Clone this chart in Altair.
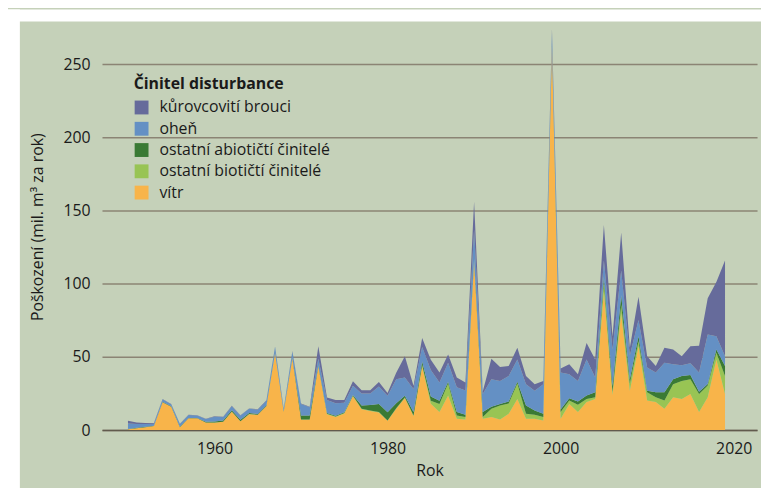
import altair as alt
import pandas as pd

years = list(range(1950, 2020))

vitr = [0.5, 1.3, 2.0, 2.7, 19.0, 16.0, 2.0, 8.0, 8.0, 5.2,
        5.0, 5.6, 12.6, 6.0, 10.8, 10.4, 16.4, 52.5, 12.5, 49.0,
        7.0, 7.0, 43.5, 10.8, 9.0, 11.3, 23.2, 14.2, 13.0, 12.0,
        6.3, 14.6, 22.0, 9.7, 43.5, 18.0, 12.3, 23.6, 7.7, 7.3,
        115.0, 7.7, 8.9, 7.3, 11.1, 21.3, 7.7, 7.7, 6.6, 262.0,
        7.7, 17.9, 12.3, 19.1, 21.3, 94.5, 24.0, 79.9, 26.9, 57.3,
        20.2, 19.1, 14.6, 22.4, 21.3, 24.7, 12.3, 22.4, 48.3, 24.7]

bioticti = [0.0, 0.0, 0.0, 0.0, 0.0, 0.0, 0.0, 0.0, 0.0, 0.0,
            0.1, 0.1, 0.1, 0.1, 0.1, 0.1, 0.1, 0.1, 0.1, 0.1,
            0.3, 0.3, 0.3, 0.3, 0.3, 0.3, 0.3, 0.3, 0.3, 0.3,
            0.3, 0.3, 0.3, 0.3, 1.0, 2.0, 5.6, 8.3, 2.3, 1.7,
            1.0, 1.3, 5.7, 9.5, 7.1, 10.6, 3.4, 2.8, 2.3, 0.5,
            4.6, 2.3, 5.0, 2.2, 1.1, 6.7, 2.0, 5.6, 5.1, 3.4,
            5.6, 3.3, 5.6, 9.0, 12.3, 10.1, 12.4, 8.0, 4.5, 12.3]

abioticti = [0.2, 0.2, 0.2, 0.2, 0.3, 0.3, 0.3, 0.3, 0.3, 0.4,
             0.7, 0.8, 0.9, 1.0, 0.7, 0.5, 0.5, 0.3, 0.3, 0.3,
             2.7, 2.7, 0.5, 0.5, 0.5, 0.5, 0.5, 2.3, 3.8, 5.6,
             5.6, 3.4, 1.2, 2.3, 2.3, 3.0, 2.2, 1.1, 2.3, 1.5,
             1.0, 3.3, 1.4, 1.1, 1.3, 1.1, 5.7, 2.9, 2.2, 0.5,
             1.8, 1.6, 2.2, 2.3, 3.4, 3.4, 4.0, 6.7, 2.8, 3.4,
             1.1, 3.4, 5.6, 3.4, 3.4, 2.9, 1.5, 1.1, 2.3, 6.8]

ohen = [3.8, 2.7, 2.0, 1.5, 1.7, 1.4, 1.8, 2.0, 1.7, 2.0,
        3.3, 2.4, 2.7, 2.8, 2.9, 2.9, 3.0, 4.0, 1.5, 4.3,
        7.9, 5.6, 4.5, 9.0, 8.5, 6.5, 6.3, 8.2, 7.9, 11.9,
        11.3, 16.4, 12.4, 15.8, 10.0, 18.0, 12.5, 13.0, 17.0, 16.5,
        20.0, 12.4, 18.8, 15.7, 17.5, 15.3, 14.6, 13.5, 20.3, 9.0,
        25.2, 16.4, 14.1, 24.7, 10.1, 11.3, 25.0, 16.9, 16.2, 11.2,
        15.8, 13.5, 20.2, 10.2, 7.3, 7.9, 13.1, 33.8, 9.0, 6.7]

kurovcoviti = [1.8, 1.0, 0.7, 0.5, 0.3, 0.2, 0.2, 0.2, 0.2, 0.2,
               0.3, 0.2, 0.3, 0.3, 0.3, 0.3, 0.3, 0.3, 0.3, 0.3,
               0.3, 0.3, 8.5, 1.6, 2.3, 2.0, 3.1, 2.3, 2.3, 3.1,
               1.8, 4.5, 14.6, 2.2, 6.2, 7.0, 6.7, 5.7, 6.7, 5.5,
               19.0, 1.6, 14.0, 9.5, 6.8, 7.9, 5.6, 4.5, 2.2, 2.0,
               2.7, 6.8, 4.6, 11.3, 12.4, 24.3, 9.0, 25.9, 5.2, 15.8,
               7.8, 4.5, 10.2, 10.1, 6.2, 11.7, 18.4, 24.8, 37.1, 65.4]

legend_order = ["kůrovcovití brouci", "oheň", "ostatní abiotičtí činitelé",
                "ostatní biotičtí činitelé", "vítr"]
colors = ["#666b9b", "#6490c4", "#3a7a34", "#98c454", "#f8b44a"]

series = {
    "vítr": vitr,
    "ostatní biotičtí činitelé": bioticti,
    "ostatní abiotičtí činitelé": abioticti,
    "oheň": ohen,
    "kůrovcovití brouci": kurovcoviti,
}
stack_rank = {name: i for i, name in enumerate(series)}

rows = []
for name, vals in series.items():
    for yr, v in zip(years, vals):
        rows.append({"rok": yr, "cinitel": name, "hodnota": v, "poradi": stack_rank[name]})
df = pd.DataFrame(rows)

FONT = "Open Sans"
TXT = "#1a1a1a"
PANEL = "#c5d1b9"

areas = alt.Chart(df).transform_stack(
    stack="hodnota",
    groupby=["rok"],
    sort=[alt.SortField("poradi", order="ascending")],
    as_=["y0", "y1"],
).mark_area(interpolate="linear", opacity=1).encode(
    x=alt.X("rok:Q",
            scale=alt.Scale(domain=[1947, 2022.7], nice=False, zero=False),
            axis=alt.Axis(title="Rok", values=[1960, 1980, 2000, 2020], format="d",
                          grid=False, ticks=False, domain=True,
                          domainColor="#615a4d", domainWidth=1.5,
                          labelPadding=11, titlePadding=6)),
    y=alt.Y("y1:Q",
            scale=alt.Scale(domain=[0, 278], nice=False),
            axis=alt.Axis(title="Poškození (mil. m³ za rok)",
                          values=[0, 50, 100, 150, 200, 250],
                          grid=True, gridColor="#8b8474", gridWidth=1.5,
                          ticks=False, domain=False,
                          labelPadding=12, titlePadding=18)),
    y2="y0:Q",
    color=alt.Color("cinitel:N",
                    scale=alt.Scale(domain=legend_order, range=colors),
                    sort=legend_order,
                    legend=alt.Legend(title="Činitel disturbance", orient="none",
                                      legendX=32, legendY=53,
                                      symbolType="square", symbolSize=196,
                                      symbolStrokeWidth=0, symbolOpacity=1,
                                      labelOffset=10, rowPadding=5.5,
                                      labelLimit=0, titleLimit=0,
                                      titlePadding=8, padding=0)),
)

strip_data = alt.Data(values=[{"a": 1}])
left_strip = alt.Chart(strip_data).mark_rect(color="white").encode(
    x=alt.value(-96), x2=alt.value(-83), y=alt.value(-14), y2=alt.value(470))
top_strip = alt.Chart(strip_data).mark_rect(color="white").encode(
    x=alt.value(-96), x2=alt.value(670), y=alt.value(-14), y2=alt.value(-2))

chart = alt.layer(left_strip, top_strip, areas).properties(
    width=662, height=411,
    padding={"left": 95, "top": 13, "right": 4, "bottom": 56},
    autosize=alt.AutoSizeParams(type="none"),
    background=PANEL,
).configure_view(stroke=None).configure_axis(
    labelFont=FONT, titleFont=FONT, labelFontSize=16, titleFontSize=16,
    labelColor=TXT, titleColor=TXT, titleFontWeight="normal",
).configure_legend(
    labelFont=FONT, titleFont=FONT, labelFontSize=16, titleFontSize=16,
    labelColor=TXT, titleColor=TXT, titleFontWeight="bold",
)

chart.save("out.html", embed_options={"renderer": "svg", "actions": False})
